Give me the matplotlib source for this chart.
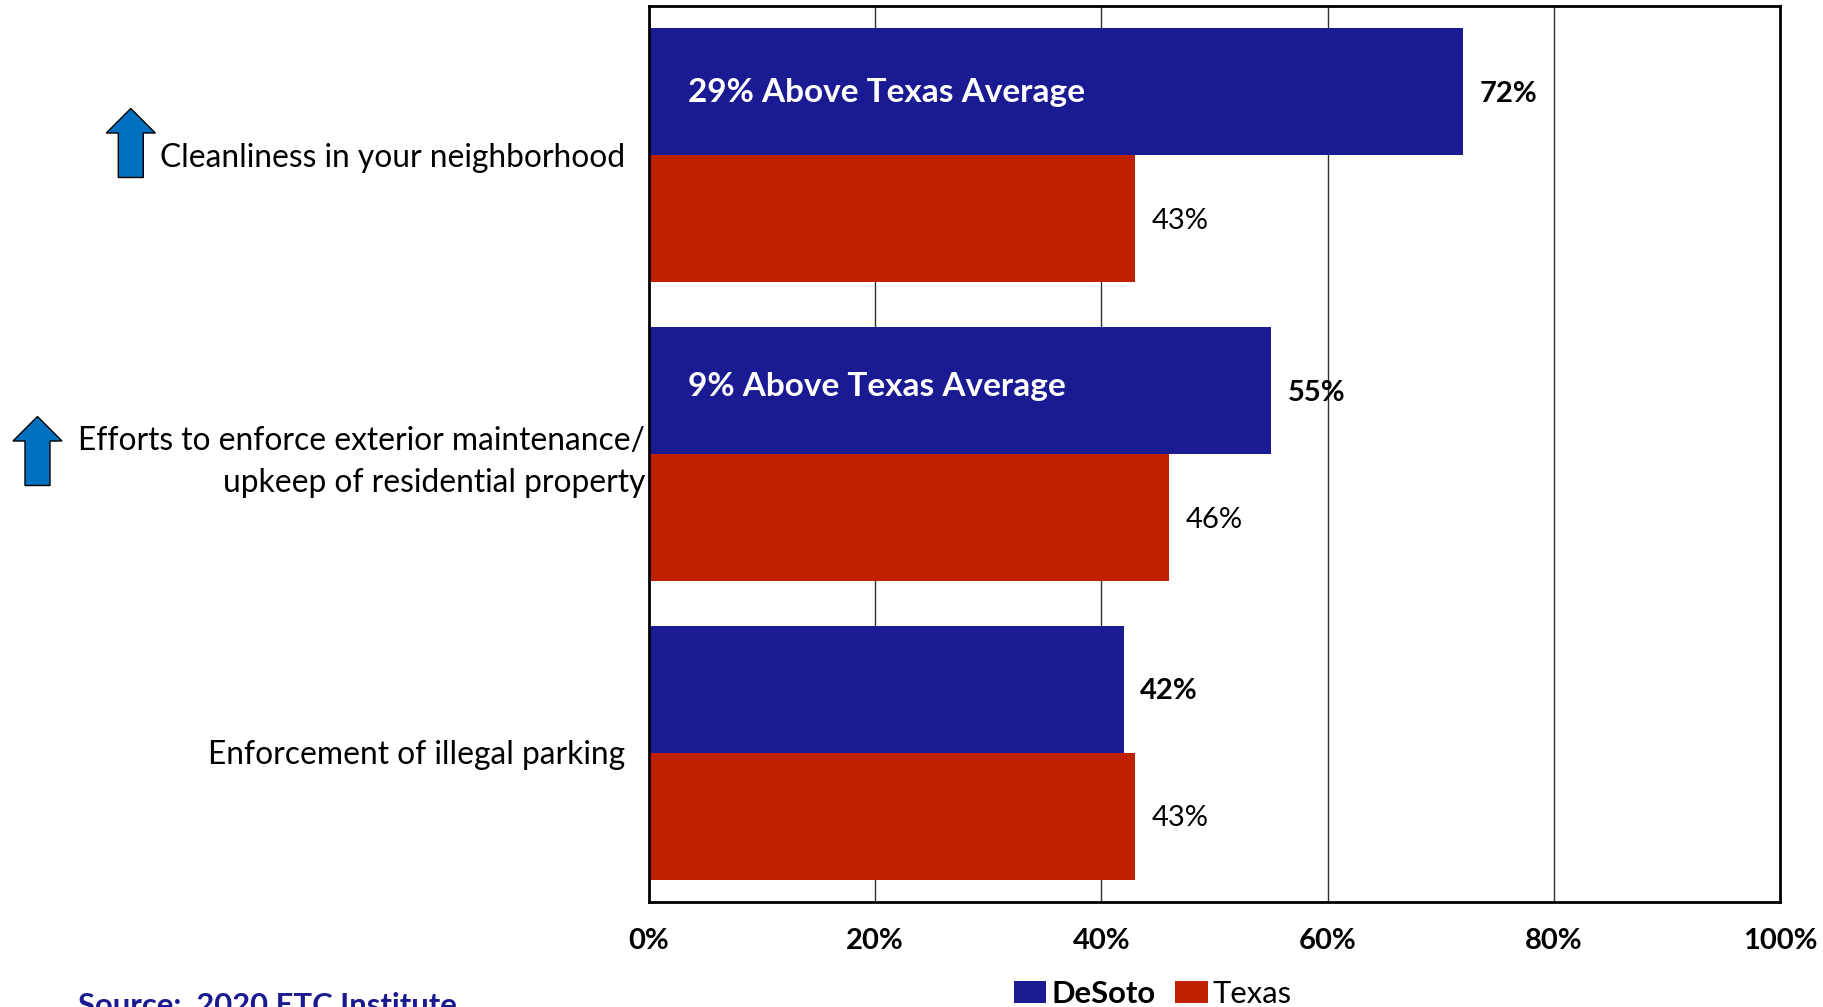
import matplotlib
matplotlib.use("Agg")
import matplotlib.pyplot as plt
from matplotlib.patches import Polygon

plt.rcParams['font.family'] = ['Lato', 'DejaVu Sans']

W, H = 1824, 1007

categories = ["Cleanliness in your neighborhood",
              "Efforts to enforce exterior maintenance/\nupkeep of residential property",
              "Enforcement of illegal parking"]
desoto = [72, 55, 42]
texas = [43, 46, 43]
callouts = ["29% Above Texas Average", "9% Above Texas Average", None]
xticks = [0, 20, 40, 60, 80, 100]
xtick_labels = ["0%", "20%", "40%", "60%", "80%", "100%"]

BLUE = "#1A1A92"
RED = "#BF2000"
ARROW = "#0070C0"


def px(x, y):
    return x / W, 1 - y / H


def up_arrow(x, tip, base):
    # block arrow in pixel units, measured from the top left of the figure
    pts = [(x, tip), (x + 24.5, tip + 24.5), (x + 12.5, tip + 24.5), (x + 12.5, base),
           (x - 12.5, base), (x - 12.5, tip + 24.5), (x - 24.5, tip + 24.5)]
    fig.add_artist(Polygon([px(*p) for p in pts], closed=True, transform=fig.transFigure,
                           facecolor=ARROW, edgecolor="black", linewidth=1))


fig = plt.figure(figsize=(W / 100, H / 100), dpi=100)
left, right, top, bottom = 649, 1780, 6, 902
ax = fig.add_axes([left / W, 1 - bottom / H, (right - left) / W, (bottom - top) / H])

ys = range(len(categories))
h = 127 / 298.7
bars_a = ax.barh([y - h / 2 for y in ys], desoto, height=h, color=BLUE, label="DeSoto", zorder=3)
bars_b = ax.barh([y + h / 2 for y in ys], texas, height=h, color=RED, label="Texas", zorder=3)

ax.set_xlim(0, 100)
ax.set_ylim(2.5, -0.5)
ax.set_xticks(xticks)
ax.set_xticklabels(xtick_labels, fontsize=21, fontweight="bold")
ax.set_yticks([])
ax.tick_params(axis="x", length=0, pad=19)
ax.xaxis.grid(True, color="#303030", linewidth=1, zorder=0)
for s in ax.spines.values():
    s.set_linewidth(2)
    s.set_zorder(5)

labels_a = ax.bar_label(bars_a, labels=[f"{v}%" for v in desoto], padding=11.7, fontsize=21, fontweight="bold", zorder=6)
labels_b = ax.bar_label(bars_b, labels=[f"{v}%" for v in texas], padding=11.7, fontsize=21, zorder=6)
for lab in list(labels_a) + list(labels_b):
    lab.xyann = (lab.xyann[0], lab.xyann[1] - 1.5)

# callouts inside the DeSoto bars
note_shift = [-1, 4, 0]
for y, note, dy in zip(ys, callouts, note_shift):
    if note:
        ax.annotate(note, xy=(0, y - h / 2), xytext=(39, dy), textcoords="offset pixels",
                    color="white", fontsize=24, fontweight="bold", va="center", zorder=6)

# category labels sit left of the axis, the long one closer to it
offsets = [(-24, -2.5), (-4, -8), (-24, -2.5)]
for y, name, off in zip(ys, categories, offsets):
    ax.annotate(name, xy=(0, y), xytext=off, textcoords="offset pixels", ha="right", va="center",
                fontsize=22.85, linespacing=1.52, annotation_clip=False)

up_arrow(130.8, 108.5, 177.5)
up_arrow(37.5, 416.5, 485.5)

fig.legend(handles=[bars_a, bars_b], loc="upper left", bbox_to_anchor=px(986, 952), ncol=2, frameon=False,
           fontsize=22.3, handlelength=1.05, handleheight=0.7, handletextpad=0.15, columnspacing=0.65)
leg = fig.legends[0]
leg.get_texts()[0].set_fontweight("bold")

fig.text(*px(78, 992), "Source:  2020 ETC Institute", color=BLUE, fontsize=22.3, fontweight="bold", va="top")

fig.savefig("out.png", dpi=100)
